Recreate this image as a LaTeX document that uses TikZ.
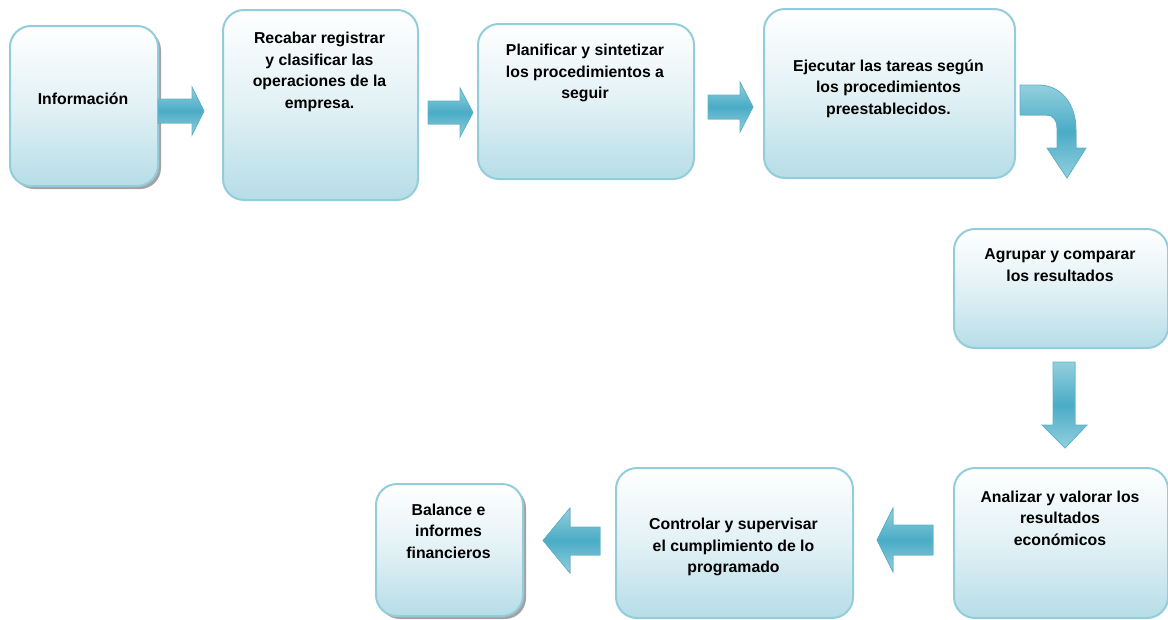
\documentclass[tikz,border=0pt]{standalone}
\usepackage{fontspec}
\setmainfont{Liberation Sans}
\usetikzlibrary{shadows}
\definecolor{boxb}{HTML}{93CDDB}
\definecolor{boxmid}{HTML}{E2F1F5}
\definecolor{boxbot}{HTML}{B6DDE7}
\definecolor{arrd}{HTML}{4AACC6}
\definecolor{arrl}{HTML}{93CFDE}
\definecolor{arrb}{HTML}{5FB5CB}
\tikzset{
  box/.style={rectangle, rounded corners=21pt, draw=boxb, line width=2pt,
    top color=white, bottom color=boxbot, middle color=boxmid, inner sep=0pt, anchor=north west},
  shad/.style={drop shadow={shadow xshift=3pt, shadow yshift=-3pt, fill=black!45, opacity=0.8}},
  txt/.style={font=\bfseries\fontsize{15.8}{21.5}\selectfont, align=center, inner sep=0pt, text=black},
  barrow/.style={top color=arrl, bottom color=arrl, middle color=arrd, draw=arrb, line width=0.8pt, line join=miter}
}
\begin{document}
\begin{tikzpicture}[x=1pt,y=-1pt]
\useasboundingbox (0,0) rectangle (1168,619);
\clip (0,0) rectangle (1168,619);
% boxes
\node[box, shad, minimum width=148pt, minimum height=160pt] (b1) at (9,25) {};
\node[box, minimum width=195pt, minimum height=190pt] (b2) at (222,9) {};
\node[box, minimum width=216pt, minimum height=155pt] (b3) at (477,23) {};
\node[box, minimum width=251pt, minimum height=169pt] (b4) at (763,8) {};
\node[box, minimum width=214pt, minimum height=119pt] (b5) at (953,228) {};
\node[box, minimum width=214pt, minimum height=150pt] (b6) at (953,467) {};
\node[box, minimum width=237pt, minimum height=150pt] (b7) at (615,467) {};
\node[box, shad, minimum width=147pt, minimum height=132pt] (b8) at (375,483) {};
% texts
\node[txt] (t1) at (83,99) {Información};
\node[txt] (t2) at (319.5,72) {Recabar registrar\\y clasificar las\\operaciones de la\\empresa.};
\node[txt] (t3) at (585,73) {Planificar y sintetizar\\los procedimientos a\\seguir};
\node[txt] (t4) at (888.5,88.5) {Ejecutar las tareas según\\los procedimientos\\preestablecidos.};
\node[txt] (t5) at (1060,265) {Agrupar y comparar\\los resultados};
\node[txt] (t6) at (1060,518) {Analizar y valorar los\\resultados\\económicos};
\node[txt] (t7) at (733.5,547) {Controlar y supervisar\\el cumplimiento de lo\\programado};
\node[txt] (t8) at (448.5,531) {Balance e\\informes\\financieros};
% block arrows
\filldraw[barrow] (158,99) -- (192,99) -- (192,87) -- (204,111) -- (192,135) -- (192,123) -- (158,123) -- cycle;
\filldraw[barrow] (428,101) -- (460,101) -- (460,88) -- (473,112.5) -- (460,137) -- (460,124) -- (428,124) -- cycle;
\filldraw[barrow] (708,95) -- (740,95) -- (740,82) -- (753,107) -- (740,132) -- (740,119) -- (708,119) -- cycle;
\filldraw[barrow] (1020,85) -- (1038,85) .. controls (1062,85) and (1076,105) .. (1076,130) -- (1076,148) -- (1086,148) -- (1067,178) -- (1047,148) -- (1057,148) -- (1057,128) .. controls (1057,120) and (1053,115) .. (1046,115) -- (1020,115) -- cycle;
\filldraw[barrow] (1053,362) -- (1075,362) -- (1075,425) -- (1087,425) -- (1065,448) -- (1042,425) -- (1053,425) -- cycle;
\filldraw[barrow] (933,525) -- (893,525) -- (893,508) -- (877,540) -- (893,572) -- (893,555) -- (933,555) -- cycle;
\filldraw[barrow] (600,527) -- (570,527) -- (570,508) -- (543,540.5) -- (570,573) -- (570,555) -- (600,555) -- cycle;
\end{tikzpicture}
\end{document}
